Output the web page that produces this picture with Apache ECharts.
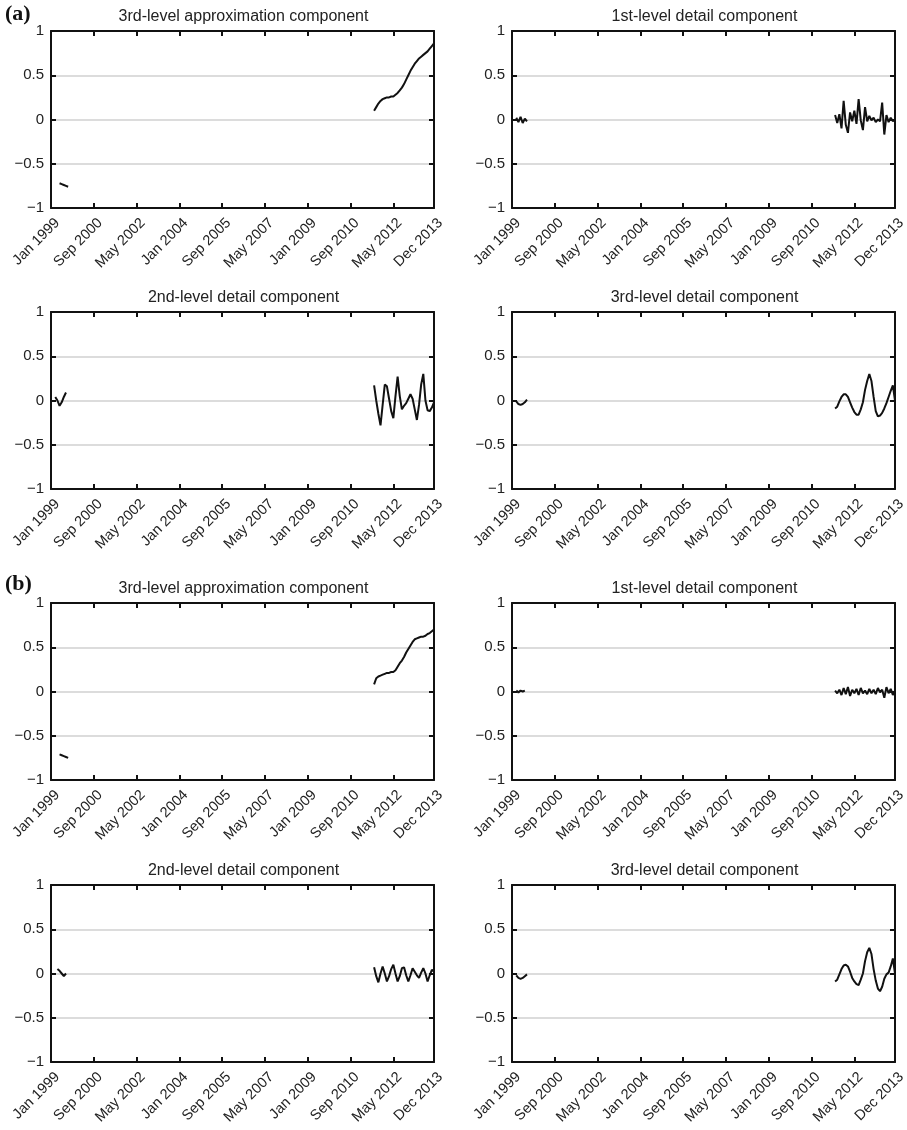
<!DOCTYPE html>
<html><head><meta charset="utf-8">
<script src="https://cdn.jsdelivr.net/npm/echarts@6/dist/echarts.min.js"></script>
<style>html,body{margin:0;padding:0;background:#fff}#c{width:907px;height:1130px}</style>
</head><body><div id="c"></div>
<script>
// ---- data ----
const xTickMonths = [0, 20, 40, 60, 80, 100, 120, 140, 160, 179];
const xTickLabels = ['Jan 1999','Sep 2000','May 2002','Jan 2004','Sep 2005','May 2007','Jan 2009','Sep 2010','May 2012','Dec 2013'];
const yTickValues = [-1, -0.5, 0, 0.5, 1];
const yTickLabels = ['\u22121', '\u22120.5', '0', '0.5', '1'];
const panelTitles = ['3rd-level approximation component','1st-level detail component','2nd-level detail component','3rd-level detail component',
                     '3rd-level approximation component','1st-level detail component','2nd-level detail component','3rd-level detail component'];
const groupLabels = ['(a)', '(b)'];
const lateStartMonth = 151;
const earlyStartMonths = [4, 2, 2, 2, 4, 2, 3, 2];

const aApprox3Early = [-0.72,-0.73,-0.74,-0.75,-0.76];
const aApprox3Late = [0.10,0.14,0.18,0.21,0.23,0.24,0.25,0.25,0.26,0.26,0.28,0.30,0.33,0.36,0.40,0.45,0.50,0.55,0.59,0.63,0.66,0.69,0.71,0.73,0.75,0.77,0.80,0.83,0.86];
const aDetail1Early = [0.02,-0.03,0.03,-0.04,0.01,-0.02];
const aDetail1Late = [0.05,-0.04,0.06,-0.10,0.21,-0.06,-0.15,0.08,-0.02,0.10,-0.05,0.23,-0.01,-0.12,0.14,-0.02,0.04,-0.01,0.02,-0.03,0.00,-0.02,0.19,-0.17,0.05,-0.03,0.02,-0.02,0.00];
const aDetail2Early = [0.04,0.00,-0.06,-0.02,0.04,0.09];
const aDetail2Late = [0.17,0.00,-0.15,-0.28,-0.05,0.18,0.16,0.02,-0.12,-0.20,0.05,0.27,0.05,-0.10,-0.06,-0.03,0.02,0.07,0.02,-0.10,-0.22,-0.05,0.18,0.30,0.00,-0.11,-0.12,-0.08,-0.02];
const aDetail3Early = [-0.01,-0.04,-0.05,-0.04,-0.02,0.01];
const aDetail3Late = [-0.09,-0.07,-0.01,0.04,0.07,0.07,0.04,-0.02,-0.08,-0.13,-0.16,-0.16,-0.10,-0.02,0.12,0.22,0.30,0.22,0.04,-0.12,-0.18,-0.17,-0.14,-0.09,-0.03,0.04,0.11,0.17,0.00];

const bApprox3Early = [-0.71,-0.72,-0.73,-0.74,-0.75];
const bApprox3Late = [0.08,0.15,0.17,0.18,0.19,0.20,0.21,0.21,0.22,0.22,0.24,0.28,0.32,0.35,0.39,0.44,0.48,0.52,0.56,0.59,0.60,0.61,0.62,0.62,0.63,0.65,0.66,0.68,0.70];
const bDetail1Early = [0.01,-0.01,0.01,0.00,0.01];
const bDetail1Late = [0.01,-0.02,0.02,-0.04,0.04,-0.03,0.05,-0.05,0.02,-0.02,0.03,-0.04,0.04,-0.02,0.01,-0.03,0.03,-0.02,0.02,-0.03,0.04,-0.01,0.02,-0.07,0.05,-0.02,0.03,-0.04,0.01];
const bDetail2Early = [0.05,0.03,0.00,-0.03,0.00];
const bDetail2Late = [0.07,-0.03,-0.10,0.00,0.08,0.00,-0.09,-0.03,0.05,0.10,0.00,-0.09,-0.03,0.06,0.07,-0.02,-0.09,-0.02,0.06,0.02,-0.02,-0.05,0.01,0.06,0.00,-0.09,-0.02,0.04,0.03];
const bDetail3Early = [-0.02,-0.05,-0.06,-0.05,-0.03,-0.01];
const bDetail3Late = [-0.09,-0.07,-0.01,0.05,0.09,0.10,0.08,0.02,-0.05,-0.09,-0.12,-0.13,-0.07,0.00,0.14,0.24,0.29,0.22,0.05,-0.08,-0.17,-0.20,-0.15,-0.06,-0.01,0.01,0.08,0.17,0.00];

const earlySegments = [aApprox3Early, aDetail1Early, aDetail2Early, aDetail3Early, bApprox3Early, bDetail1Early, bDetail2Early, bDetail3Early];
const lateSegments = [aApprox3Late, aDetail1Late, aDetail2Late, aDetail3Late, bApprox3Late, bDetail1Late, bDetail2Late, bDetail3Late];

// ---- layout ----
const colLeft = [51, 512];
const plotW = 383;
const rowTop = [31, 312, 603, 885];
const plotH = 177;
const FONT = "'Liberation Sans', Arial, Helvetica, sans-serif";

function toPairs(start, vals) { return vals.map((v, k) => [start + k, v]); }
function xLabel(v) { const i = xTickMonths.indexOf(Math.round(v)); return i >= 0 ? xTickLabels[i] : ''; }
function yLabel(v) { const i = yTickValues.findIndex(t => Math.abs(t - v) < 1e-9); return i >= 0 ? yTickLabels[i] : ''; }

const grids = [], xAxes = [], yAxes = [], series = [], graphics = [];
const axisLineStyle = { color: '#111', width: 2 };
const tickStyle = { show: true, inside: true, length: 5, lineStyle: { color: '#111', width: 2 } };
for (let i = 0; i < 8; i++) {
  const col = i % 2, row = Math.floor(i / 2);
  grids.push({ left: colLeft[col], top: rowTop[row], width: plotW, height: plotH, containLabel: false, outerBoundsMode: 'none' });
  const xBase = { type: 'value', gridIndex: i, min: 0, max: 179, interval: 20, splitLine: { show: false },
    axisLine: { show: true, onZero: false, lineStyle: axisLineStyle }, axisTick: tickStyle };
  xAxes.push(Object.assign({}, xBase, { position: 'bottom',
    axisLabel: { show: true, rotate: 45, margin: 19, padding: [0, -9, 0, 0], fontSize: 14.5, color: '#222', fontFamily: FONT, formatter: xLabel, showMinLabel: true, showMaxLabel: true } }));
  xAxes.push(Object.assign({}, xBase, { position: 'top', axisLabel: { show: false } }));
  const yBase = { type: 'value', gridIndex: i, min: -1, max: 1, interval: 0.5,
    axisLine: { show: true, onZero: false, lineStyle: axisLineStyle }, axisTick: tickStyle };
  yAxes.push(Object.assign({}, yBase, { position: 'left',
    splitLine: { show: true, lineStyle: { color: '#dcdcdc', width: 2 } },
    axisLabel: { show: true, margin: 7, fontSize: 15, color: '#222', fontFamily: FONT, formatter: yLabel } }));
  yAxes.push(Object.assign({}, yBase, { position: 'right', splitLine: { show: false }, axisLabel: { show: false } }));
  const lineStyle = { color: '#111', width: 2 };
  series.push({ type: 'line', xAxisIndex: 2 * i, yAxisIndex: 2 * i, showSymbol: false, symbol: 'none', lineStyle, animation: false, z: 5,
    data: toPairs(earlyStartMonths[i], earlySegments[i]) });
  series.push({ type: 'line', xAxisIndex: 2 * i, yAxisIndex: 2 * i, showSymbol: false, symbol: 'none', lineStyle, animation: false, z: 5,
    data: toPairs(lateStartMonth, lateSegments[i]) });
  graphics.push({ type: 'text', x: colLeft[col] + plotW / 2 + 1, y: rowTop[row] - 14,
    style: { text: panelTitles[i], align: 'center', verticalAlign: 'middle', fontSize: 16, fontFamily: FONT, fill: '#222' } });
}
graphics.push({ type: 'text', x: 5, y: 3, style: { text: groupLabels[0], fontSize: 22, fontWeight: 'bold', fontFamily: "'Liberation Serif', 'Times New Roman', serif", fill: '#111' } });
graphics.push({ type: 'text', x: 5, y: 573, style: { text: groupLabels[1], fontSize: 22, fontWeight: 'bold', fontFamily: "'Liberation Serif', 'Times New Roman', serif", fill: '#111' } });

const chart = echarts.init(document.getElementById('c'), null, { renderer: 'canvas' });
chart.setOption({
  backgroundColor: '#fff',
  animation: false,
  grid: grids, xAxis: xAxes, yAxis: yAxes, series: series, graphic: graphics
});
</script></body></html>
